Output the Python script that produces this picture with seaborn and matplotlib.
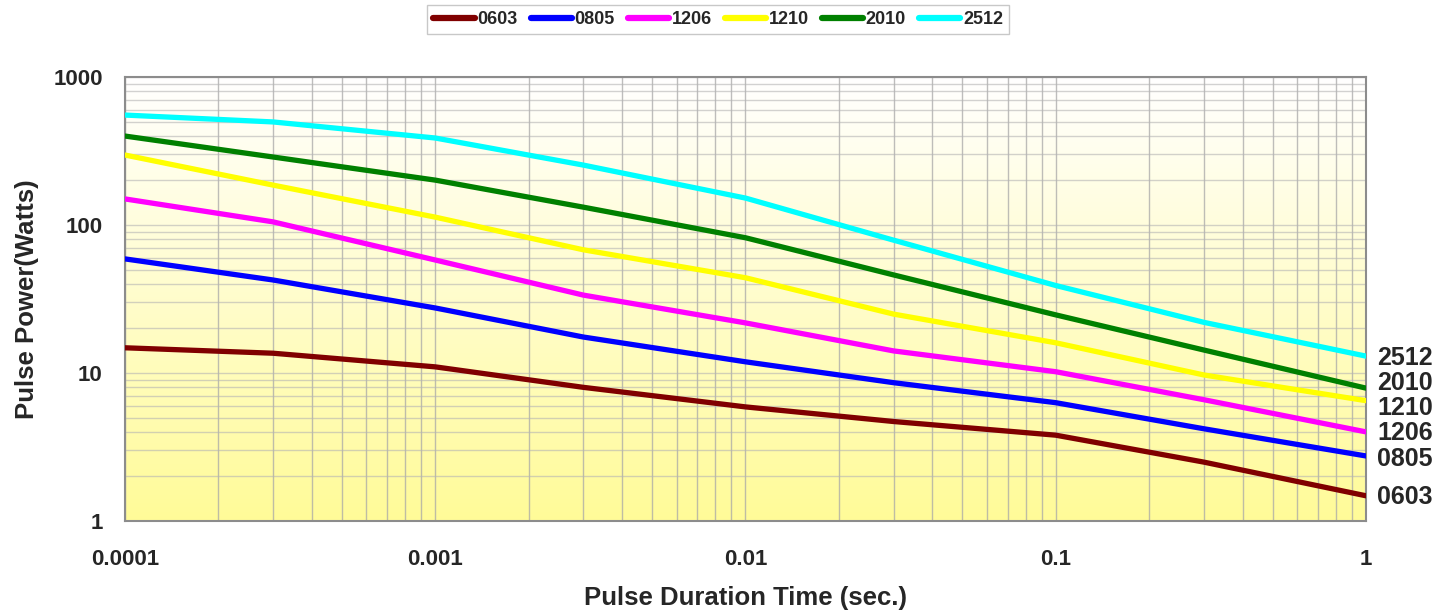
import numpy as np
import pandas as pd
import matplotlib
matplotlib.use("Agg")
import matplotlib.pyplot as plt
from matplotlib.colors import LinearSegmentedColormap
from matplotlib.ticker import FixedLocator, FixedFormatter, LogLocator, NullFormatter
import seaborn as sns

# --- Data ---
pulse_time = [0.0001, 0.0003, 0.001, 0.003, 0.01, 0.03, 0.1, 0.3, 1.0]
sizes = ["0603", "0805", "1206", "1210", "2010", "2512"]

p_0603 = [14.8, 13.6, 11.0, 8.0, 5.9, 4.7, 3.8, 2.5, 1.48]
p_0805 = [59, 42.5, 27.5, 17.5, 11.9, 8.6, 6.3, 4.2, 2.75]
p_1206 = [150, 105, 58, 33.6, 21.8, 14.1, 10.2, 6.6, 4.0]
p_1210 = [297, 186, 113, 68, 44, 25.0, 16.0, 9.7, 6.5]
p_2010 = [399, 288, 201, 132, 82, 46, 24.7, 14.3, 7.9]
p_2512 = [553, 497, 387, 254, 152, 79, 39, 22, 13]

colors = ["#800000", "#0000FF", "#FF00FF", "#FFFF00", "#008000", "#00FFFF"]

x_ticks = [0.0001, 0.001, 0.01, 0.1, 1]
x_tick_labels = ["0.0001", "0.001", "0.01", "0.1", "1"]
y_ticks = [1, 10, 100, 1000]
y_tick_labels = ["1", "10", "100", "1000"]

# --- Build long-form table ---
series = [p_0603, p_0805, p_1206, p_1210, p_2010, p_2512]
rows = []
for name, vals in zip(sizes, series):
    for t, p in zip(pulse_time, vals):
        rows.append({"Time": t, "Power": p, "Size": name})
df = pd.DataFrame(rows)

sns.set_style("white")
plt.rcParams["font.family"] = ["Liberation Sans", "DejaVu Sans"]
plt.rcParams["font.weight"] = "bold"

fig = plt.figure(figsize=(14.47, 6.14), dpi=100)
ax = fig.add_axes([0.0864, 0.1515, 0.8576, 0.7231])

# white-to-yellow vertical gradient background
grad_cmap = LinearSegmentedColormap.from_list("bg", ["#FFFB98", "#FFFFFF"])
grad = np.linspace(0, 1, 256).reshape(-1, 1)
ax.imshow(grad, extent=[0, 1, 0, 1], transform=ax.transAxes, origin="lower",
          aspect="auto", cmap=grad_cmap, zorder=0)

sns.lineplot(data=df, x="Time", y="Power", hue="Size", hue_order=sizes,
             palette=colors, linewidth=3.8, ax=ax, zorder=3, legend=True)

ax.set_xscale("log")
ax.set_yscale("log")
ax.set_xlim(0.0001, 1)
ax.set_ylim(1, 1000)

ax.xaxis.set_major_locator(FixedLocator(x_ticks))
ax.xaxis.set_major_formatter(FixedFormatter(x_tick_labels))
ax.yaxis.set_major_locator(FixedLocator(y_ticks))
ax.yaxis.set_major_formatter(FixedFormatter(y_tick_labels))
ax.xaxis.set_minor_locator(LogLocator(base=10, subs=np.arange(2, 10)))
ax.yaxis.set_minor_locator(LogLocator(base=10, subs=np.arange(2, 10)))
ax.xaxis.set_minor_formatter(NullFormatter())
ax.yaxis.set_minor_formatter(NullFormatter())

ax.grid(True, which="both", axis="x", color="#a8a8a8", linewidth=1.0, alpha=0.75, zorder=1)
ax.grid(True, which="both", axis="y", color="#b4b4b4", linewidth=1.0, alpha=0.6, zorder=1)
ax.set_axisbelow(True)
ax.tick_params(which="both", length=0, labelsize=16)
ax.tick_params(axis="x", pad=20)
ax.tick_params(axis="y", pad=16)
for lab in ax.get_xticklabels() + ax.get_yticklabels():
    lab.set_fontweight("bold")

for s in ax.spines.values():
    s.set_color("#8c8c8c")
    s.set_linewidth(1.5)

ax.set_xlabel("Pulse Duration Time (sec.)", fontsize=18.5, fontweight="bold", labelpad=12)
ax.set_ylabel("Pulse Power(Watts)", fontsize=18.5, fontweight="bold", labelpad=10)

# end-of-line labels on the right (offset in points, positive moves down)
label_offsets = {"0603": 1, "0805": 2, "1206": 1, "1210": 5, "2010": -3.5, "2512": 1}
for name, vals in zip(sizes, series):
    ax.annotate(name, xy=(1, vals[-1]), xycoords="data",
                xytext=(8, -label_offsets[name]), textcoords="offset points",
                ha="left", va="center", fontsize=18, fontweight="bold",
                annotation_clip=False)

leg = ax.legend(loc="upper center", bbox_to_anchor=(0.478, 1.183), ncol=6,
                frameon=True, fancybox=False, fontsize=13, handlelength=2.3,
                handletextpad=0.15, columnspacing=0.7, borderpad=0.35)
leg.get_frame().set_edgecolor("#bbbbbb")
leg.get_frame().set_linewidth(1.0)
for line in leg.get_lines():
    line.set_linewidth(4.5)
for txt in leg.get_texts():
    txt.set_fontweight("bold")

fig.savefig("out.png", dpi=100)
